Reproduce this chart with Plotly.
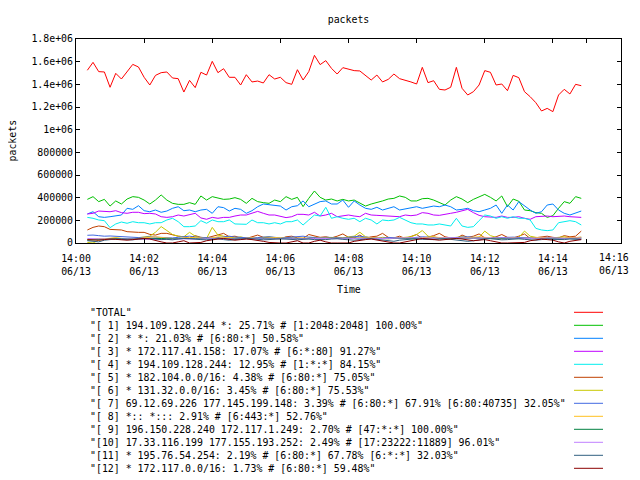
import pandas as pd
import plotly.graph_objects as go

# ---------------- data (values in thousands of packets) ----------------
start_time = "2013-06-13 14:00:20"
n_points = 88
sample_step = "10s"

total = [1524,1594,1512,1509,1374,1497,1447,1515,1576,1553,1462,1394,1479,1503,1509,1456,1450,1332,1435,1371,
         1506,1482,1603,1503,1538,1462,1462,1394,1485,1421,1429,1412,1485,1447,1462,1415,1400,1529,1438,1512,
         1656,1574,
         1609,1541,1491,1547,1532,1521,1518,1482,1438,1482,1421,1444,1491,1450,1438,1421,1403,1550,1415,1432,
         1356,1350,1374,1550,1365,1306,1335,1394,1521,1506,1394,1403,1344,1479,1459,1335,1291,1238,1165,1188,
         1159,1306,1356,1315,1400,1388]
s1 = [385,409,365,385,326,371,344,388,409,403,379,344,379,424,379,350,341,341,356,341,
      415,379,409,394,385,388,400,385,350,394,365,356,350,379,365,409,385,403,321,394,459,403,
      379,388,371,385,371,379,350,326,344,356,371,388,394,415,403,371,371,391,394,379,
      356,335,379,409,388,356,385,409,429,403,371,415,321,388,368,291,285,268,262,226,241,306,365,350,409,394]
s2 = [256,276,232,226,232,238,247,306,297,329,285,276,291,271,282,306,320,285,291,276,
      291,297,262,320,312,282,306,297,262,285,320,344,338,329,326,291,320,329,371,320,344,365,
      371,344,344,379,315,371,335,306,297,315,291,306,320,291,300,306,320,306,315,326,
      320,335,320,291,297,306,285,276,291,306,335,262,335,291,365,326,291,262,276,335,344,291,262,247,268,282]
s3 = [256,262,282,279,276,285,268,262,271,271,259,262,256,232,226,232,247,238,253,262,
      221,209,226,218,226,226,238,247,247,262,279,262,247,247,238,224,232,253,253,247,271,238,
      247,262,232,238,247,238,232,262,247,244,241,238,232,232,247,241,247,268,262,247,
      244,256,262,271,285,297,268,244,232,232,226,238,226,226,232,218,209,232,238,238,232,238,238,232,226,226]
s4 = [226,218,203,197,135,168,185,174,188,179,179,168,179,179,203,218,188,144,144,150,
      197,174,203,188,188,203,168,168,165,203,179,179,168,179,168,188,188,203,159,203,247,238,
      315,218,232,218,209,218,188,218,203,168,203,197,203,226,203,179,168,168,159,159,
      168,159,150,218,150,138,144,197,247,238,218,232,218,232,218,218,203,129,115,109,115,179,188,197,188,159]
s5 = [115,138,150,144,120,115,115,100,94,94,94,76,70,85,85,70,
      60,55,40,65,50,45,60,70,85,55,60,45,40,55,70,50,45,40,35,55,60,45,40,75,60,50,
      55,45,60,80,50,45,70,40,55,60,85,50,45,60,40,55,75,40,50,65,85,55,45,40,70,50,60,80,45,40,
      55,75,50,45,60,80,40,45,55,60,50,45,65,55,60,105]
s6 = [5,0,25,35,40,45,40,35,40,45,50,60,95,145,110,75,
      60,55,94,60,45,40,138,70,60,50,45,55,40,35,45,50,55,45,40,50,45,40,35,45,50,45,
      45,40,50,45,55,60,95,55,45,40,50,45,40,45,50,55,75,110,60,50,45,40,45,50,55,45,40,50,105,65,
      50,45,40,45,50,105,60,50,45,40,45,50,55,45,40,45]
s7 = [68,70,65,60,62,58,55,52,50,48,50,55,52,48,50,45,50,55,60,52,48,50,45,48,55,60,52,48,50,45,
      48,52,55,50,45,48,50,55,60,52,48,45,
      50,52,48,45,50,55,60,52,48,45,42,48,50,52,48,45,50,55,52,48,45,42,45,48,52,55,50,45,42,40,
      45,48,50,52,48,45,42,45,48,50,45,42,40,45,48,50]
s8 = [30,35,40,38,42,45,40,38,35,40,45,50,55,48,42,40,38,45,50,48,42,40,45,55,50,45,40,38,42,45,
      40,38,42,48,45,40,38,42,45,40,42,45,
      48,45,42,40,38,42,45,50,48,42,40,38,42,45,48,42,40,45,50,55,48,42,40,38,42,45,48,55,50,42,
      40,38,42,45,40,38,42,48,50,45,42,40,45,50,48,52]
s9 = [25,28,30,32,35,38,40,38,36,35,38,40,42,40,38,36,38,40,42,40,38,36,35,38,40,42,40,38,36,38,
      40,42,40,38,36,38,40,42,40,38,40,42,
      40,42,40,38,40,42,44,42,40,38,36,38,40,42,40,38,40,42,40,38,36,35,38,40,42,44,42,40,38,40,
      42,40,38,36,38,40,42,40,38,36,38,40,42,40,38,40]
s10 = [40,38,35,32,30,32,35,38,36,34,32,30,28,30,32,35,38,36,34,32,35,38,40,38,36,34,32,35,38,40,
       38,36,34,36,38,40,38,36,35,38,40,42,
       42,40,38,36,38,40,42,45,42,40,38,40,42,45,48,46,44,42,40,42,44,46,48,46,44,42,40,42,44,46,
       48,46,44,42,40,38,40,42,44,46,44,42,40,42,44,42]
s11 = [20,15,10,25,30,35,32,30,28,35,38,40,35,30,32,28,35,40,38,32,30,28,35,38,30,25,30,35,40,38,
       32,28,30,35,38,35,30,28,32,35,30,28,
       30,35,38,32,28,25,30,35,38,32,28,20,15,25,30,35,38,32,28,30,35,38,32,28,22,15,20,30,35,38,
       32,28,30,35,38,32,28,25,30,35,32,28,30,35,32,30]
s12 = [30,28,25,30,35,32,28,25,30,35,40,35,20,10,0,0,10,20,0,0,5,20,30,35,40,30,25,30,35,30,
       25,15,5,0,0,0,10,20,0,0,15,25,
       10,0,0,0,0,15,25,30,35,25,15,5,0,0,10,25,35,40,35,30,25,30,35,40,35,25,20,25,30,20,
       10,0,0,0,0,5,20,30,35,30,25,10,0,15,25,30]

series_values = [total, s1, s2, s3, s4, s5, s6, s7, s8, s9, s10, s11, s12]
series_names = [
    '"TOTAL"',
    '"[ 1] 194.109.128.244 *: 25.71% # [1:2048:2048] 100.00%"',
    '"[ 2] * *: 21.03% # [6:80:*] 50.58%"',
    '"[ 3] * 172.117.41.158: 17.07% # [6:*:80] 91.27%"',
    '"[ 4] * 194.109.128.244: 12.95% # [1:*:*] 84.15%"',
    '"[ 5] * 182.104.0.0/16: 4.38% # [6:80:*] 75.05%"',
    '"[ 6] * 131.32.0.0/16: 3.45% # [6:80:*] 75.53%"',
    '"[ 7] 69.12.69.226 177.145.199.148: 3.39% # [6:80:*] 67.91% [6:80:40735] 32.05%"',
    '"[ 8] *:: *::: 2.91% # [6:443:*] 52.76%"',
    '"[ 9] 196.150.228.240 172.117.1.249: 2.70% # [47:*:*] 100.00%"',
    '"[10] 17.33.116.199 177.155.193.252: 2.49% # [17:23222:11889] 96.01%"',
    '"[11] * 195.76.54.254: 2.19% # [6:80:*] 67.78% [6:*:*] 32.03%"',
    '"[12] * 172.117.0.0/16: 1.73% # [6:80:*] 59.48%"',
]
colors = ["#ff0000", "#00c000", "#0080ff", "#c000ff", "#00eeee", "#c04000", "#c8c800",
          "#4169e1", "#ffc020", "#008040", "#c080ff", "#306080", "#8b0000"]

x_tick_times = ["2013-06-13 14:00", "2013-06-13 14:02", "2013-06-13 14:04", "2013-06-13 14:06",
                "2013-06-13 14:08", "2013-06-13 14:10", "2013-06-13 14:12", "2013-06-13 14:14",
                "2013-06-13 14:15", "2013-06-13 14:16"]
x_tick_labels = ["14:00<br>06/13", "14:02<br>06/13", "14:04<br>06/13", "14:06<br>06/13",
                 "14:08<br>06/13", "14:10<br>06/13", "14:12<br>06/13", "14:14<br>06/13",
                 "", ""]
last_tick_label = "14:16<br>06/13"   # drawn as an annotation so it stays inside the window
y_tick_vals = [0, 200000, 400000, 600000, 800000, 1000000, 1200000, 1400000, 1600000, 1800000]
y_tick_labels = ["0", "200000", "400000", "600000", "800000", "1e+06", "1.2e+06", "1.4e+06",
                 "1.6e+06", "1.8e+06"]

# ---------------- layout geometry (screen pixels) ----------------
W, H = 640, 480
OFF = 8  # page body margin offset
L, R, T, B = 76, 621, 39, 243
FONT = "DejaVu Sans Mono"
FS = 9.9

def px_x(px):
    return (px - L) / (R - L)

def px_y(py):
    return (B - py) / (B - T)

times = pd.date_range(start_time, periods=n_points, freq=sample_step)

fig = go.Figure()
for name, vals, col in zip(series_names, series_values, colors):
    fig.add_trace(go.Scatter(x=times, y=[v * 1000 for v in vals], mode="lines", name=name,
                             line=dict(color=col, width=1), showlegend=False))

annotations = []
shapes = []
for i, (name, col) in enumerate(zip(series_names, colors)):
    yy = 312.3 + 13 * i
    annotations.append(dict(text=name, x=px_x(88), y=px_y(yy), xref="paper", yref="paper",
                            xanchor="left", yanchor="middle", showarrow=False,
                            font=dict(family=FONT, size=FS, color="black")))
    shapes.append(dict(type="line", xref="paper", yref="paper", x0=px_x(574), x1=px_x(603),
                       y0=px_y(yy), y1=px_y(yy), line=dict(color=col, width=1)))

annotations.append(dict(text="packets", x=px_x(11.5), y=0.5, xref="paper", yref="paper",
                        textangle=-90, xanchor="center", yanchor="middle", showarrow=False,
                        font=dict(family=FONT, size=FS, color="black")))
annotations.append(dict(text="Time", x=0.5, y=px_y(289), xref="paper", yref="paper",
                        xanchor="center", yanchor="middle", showarrow=False,
                        font=dict(family=FONT, size=FS, color="black")))
annotations.append(dict(text=last_tick_label, x=px_x(631), y=px_y(263.5), xref="paper",
                        yref="paper", xanchor="right", yanchor="middle", showarrow=False,
                        align="center", font=dict(family=FONT, size=FS, color="black")))

fig.update_layout(
    width=W, height=H,
    margin=dict(l=L - OFF, r=W - R + OFF, t=T - OFF, b=H - B + OFF, pad=0),
    paper_bgcolor="white", plot_bgcolor="white",
    font=dict(family=FONT, size=FS, color="black"),
    title=dict(text="packets", x=0.5, xref="paper", y=1 - (20 - OFF) / H, yanchor="middle",
               xanchor="center", font=dict(family=FONT, size=FS, color="black")),
    annotations=annotations, shapes=shapes,
    xaxis=dict(type="date", range=["2013-06-13 14:00", "2013-06-13 14:16"],
               tickvals=x_tick_times, ticktext=x_tick_labels, ticks="inside", ticklen=4,
               tickcolor="black", showline=True, linecolor="black", linewidth=1,
               mirror="allticks", showgrid=False, zeroline=False, ticklabelstandoff=6,
               tickfont=dict(family=FONT, size=FS, color="black")),
    yaxis=dict(range=[0, 1800000], tickvals=y_tick_vals, ticktext=y_tick_labels,
               ticks="inside", ticklen=4, tickcolor="black", showline=True,
               linecolor="black", linewidth=1, mirror="allticks", showgrid=False,
               zeroline=False, tickfont=dict(family=FONT, size=FS, color="black")),
)

fig.write_html("out.html")
